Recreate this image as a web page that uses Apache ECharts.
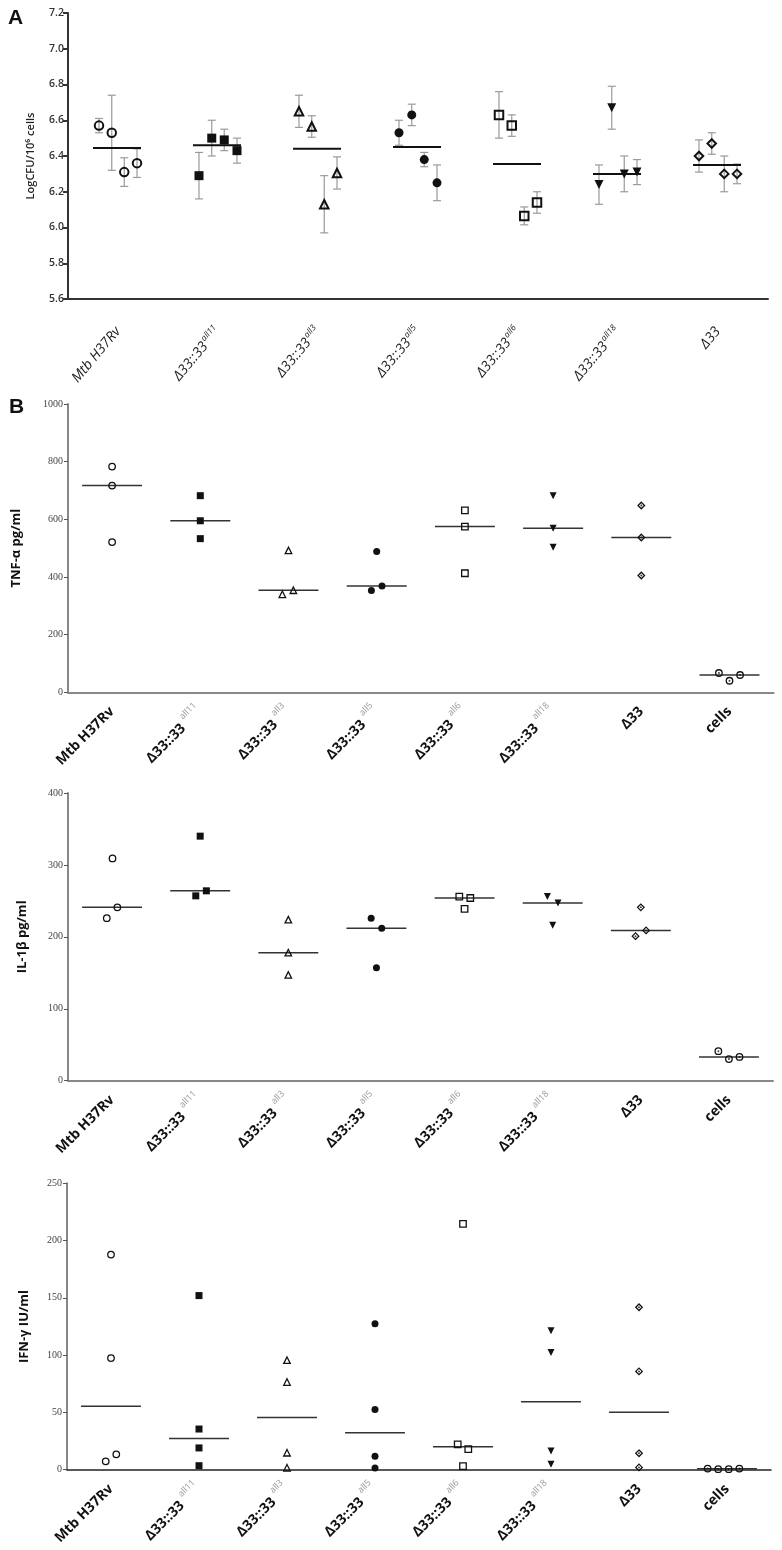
<!DOCTYPE html>
<html><head><meta charset="utf-8">
<script src="https://cdn.jsdelivr.net/npm/echarts@6/dist/echarts.min.js"></script>
<style>html,body{margin:0;padding:0;background:#fff}#c{width:782px;height:1550px}</style>
</head><body><div id="c"></div>
<script>
// ================= DATA =================
// Category labels (name + superscript)
const strainNames = ['Mtb H37Rv','Δ33::33','Δ33::33','Δ33::33','Δ33::33','Δ33::33','Δ33'];
const strainSups  = ['','all11','all3','all5','all6','all18',''];
const cytoNames   = ['Mtb H37Rv','Δ33::33','Δ33::33','Δ33::33','Δ33::33','Δ33::33','Δ33','cells'];
const cytoSups    = ['','all11','all3','all5','all6','all18','',''];

// Panel A: LogCFU/10^6 cells, 4 replicates per strain (value, SD) and group mean
const cfu = [
  [6.57, 6.53, 6.31, 6.36],
  [6.29, 6.50, 6.49, 6.43],
  [6.65, 6.565, 6.13, 6.305],
  [6.53, 6.63, 6.38, 6.25],
  [6.63, 6.57, 6.065, 6.14],
  [6.24, 6.67, 6.30, 6.31],
  [6.40, 6.47, 6.30, 6.30]
];
const cfuSD = [
  [0.04, 0.21, 0.08, 0.08],
  [0.13, 0.10, 0.06, 0.07],
  [0.09, 0.06, 0.16, 0.09],
  [0.07, 0.06, 0.04, 0.10],
  [0.13, 0.06, 0.05, 0.06],
  [0.11, 0.12, 0.10, 0.07],
  [0.09, 0.06, 0.10, 0.055]
];
const cfuMean = [6.445, 6.46, 6.44, 6.45, 6.355, 6.30, 6.35];
const cfuTicks = [5.6, 5.8, 6.0, 6.2, 6.4, 6.6, 6.8, 7.0, 7.2];

// Panel B: cytokines (per strain replicate values)
const tnf = [
  [783, 717, 521],
  [682, 595, 533],
  [492, 340, 354],
  [488, 353, 369],
  [631, 575, 413],
  [682, 569, 503],
  [648, 537, 405],
  [67, 40, 60]
];
const tnfTicks = [0, 200, 400, 600, 800, 1000];

const il1b = [
  [309, 226, 241],
  [340, 257, 264],
  [224, 178, 147],
  [226, 212, 157],
  [256, 254, 239],
  [256, 247, 216],
  [241, 201, 209],
  [41, 30, 33]
];
const il1bTicks = [0, 100, 200, 300, 400];

const ifng = [
  [187.8, 97.4, 7.3, 13.4],
  [152, 35.5, 19, 3.5],
  [95.6, 76.5, 14.8, 1.7],
  [127.3, 52.6, 11.7, 1.5],
  [214.5, 22.1, 18, 3.2],
  [121.2, 102.4, 16.3, 4.7],
  [141.8, 85.8, 14.3, 2],
  [1, 0.5, 0.5, 1]
];
const ifngTicks = [0, 50, 100, 150, 200, 250];

// ================= LAYOUT (positions / styles only) =================
const jitA = [-0.19, -0.0625, 0.0625, 0.19];
const tnfJit = [[0,0,0],[0,0,0],[0,-0.07,0.055],[0,-0.06,0.06],[0,0,0],[0,0,0],[0,0,0],[-0.12,0,0.12]];
const il1bJit = [[0.005,-0.06,0.06],[0,-0.05,0.07],[0,0,0],[-0.06,0.06,0],[-0.06,0.065,0],[-0.06,0.06,0],[0,-0.06,0.06],[-0.12,0,0.12]];
const ifngJit = [[0,0,-0.06,0.06],[0,0,0,0],[0,0,0,0],[0,0,0,0],[0,-0.06,0.06,0],[0,0,0,0],[0,0,0,0],[-0.22,-0.1,0.02,0.14]];

const marks = [
  {symbol:'circle', fill:false},
  {symbol:'rect', fill:true},
  {symbol:'triangle', fill:false},
  {symbol:'circle', fill:true},
  {symbol:'rect', fill:false},
  {symbol:'triangle', fill:true, rotate:180},
  {symbol:'diamond', fill:false, dot:true},
  {symbol:'circle', fill:false, dot:true}
];

function median(a){const s=[...a].sort((x,y)=>x-y);const n=s.length;return n%2?s[(n-1)/2]:(s[n/2-1]+s[n/2])/2;}
function step(t){return +(t[1]-t[0]).toFixed(6);}

const grids = [
  {left:68, top:13, width:700, height:286},
  {left:68, top:404, width:705.6, height:288.3},
  {left:68, top:793, width:705, height:287.7},
  {left:67, top:1183.3, width:704, height:286.4}
];
grids.forEach(g=>{g.containLabel=false; g.outerBoundsMode='none';});

function labelFmt(names, sups){
  return function(v, i){
    const s = sups[i];
    return s ? '{m|' + names[i] + '}{s|' + s + '}' : '{m|' + names[i] + '}';
  };
}

const xAxes = [];
const yAxes = [];
const series = [];

// ---------- Panel A axes ----------
xAxes.push({
  type:'category', gridIndex:0, data: strainNames.map((n,i)=>n+strainSups[i]+'#'+i),
  boundaryGap:true,
  axisLine:{onZero:false, lineStyle:{color:'#333', width:2}},
  axisTick:{alignWithLabel:true, length:5, lineStyle:{color:'#333', width:2}},
  axisLabel:{interval:0, rotate:50, margin:30, formatter: labelFmt(strainNames, strainSups),
    rich:{
      m:{fontFamily:'Open Sans', fontStyle:'italic', fontSize:14, color:'#222', lineHeight:18},
      s:{fontFamily:'Open Sans', fontStyle:'italic', fontSize:8.5, color:'#222', verticalAlign:'top', padding:[0,0,0,1]}
    }},
  splitLine:{show:false}
});
xAxes.push({type:'value', gridIndex:0, min:-0.5, max:6.5, show:false, axisLine:{onZero:false}, splitLine:{show:false}});
yAxes.push({
  type:'value', gridIndex:0, min:cfuTicks[0], max:cfuTicks[cfuTicks.length-1], interval:step(cfuTicks),
  name:'LogCFU/10⁶ cells', nameLocation:'middle', nameRotate:90, nameGap:32,
  nameTextStyle:{fontFamily:'Open Sans', fontWeight:600, fontSize:11, color:'#222'},
  axisLine:{show:true, onZero:false, lineStyle:{color:'#333', width:2}},
  axisTick:{show:true, length:5, lineStyle:{color:'#333', width:2}},
  axisLabel:{fontFamily:'Open Sans', fontWeight:600, fontSize:10.5, color:'#333', margin:4, formatter:v=>v.toFixed(1)},
  splitLine:{show:false}
});

// ---------- Panel B axes ----------
const bTitles = ['TNF-α pg/ml', 'IL-1β pg/ml', 'IFN-γ IU/ml'];
const bTicks = [tnfTicks, il1bTicks, ifngTicks];
const bGaps = [45, 39, 36];
for (let c=0;c<3;c++){
  const gi = c+1;
  const xColor = c===2 ? '#222' : '#888';
  xAxes.push({
    type:'category', gridIndex:gi, data: cytoNames.map((n,i)=>n+cytoSups[i]+'#'+i),
    boundaryGap:true,
    axisLine:{onZero:false, lineStyle:{color:xColor, width:c===2?1.5:2}},
    axisTick:{alignWithLabel:true, length:4, lineStyle:{color:'#444', width:1.5}},
    axisLabel:{interval:0, rotate:45, margin:17, formatter: labelFmt(cytoNames, cytoSups),
      rich:{
        m:{fontFamily:'Open Sans', fontWeight:'bold', fontSize:14, color:'#111', lineHeight:24},
        s:{fontFamily:'Open Sans', fontSize:9, color:'#999', verticalAlign:'top', padding:[0,0,0,4]}
      }},
    splitLine:{show:false}
  });
  xAxes.push({type:'value', gridIndex:gi, min:-0.5, max:7.5, show:false, axisLine:{onZero:false}, splitLine:{show:false}});
  const t = bTicks[c];
  yAxes.push({
    type:'value', gridIndex:gi, min:t[0], max:t[t.length-1], interval:step(t),
    name:bTitles[c], nameLocation:'middle', nameRotate:90, nameGap:bGaps[c],
    nameTextStyle:{fontFamily:'Open Sans', fontWeight:'bold', fontSize:13, color:'#111'},
    axisLine:{show:true, onZero:false, lineStyle:{color:'#888', width:2}},
    axisTick:{show:true, length:4, lineStyle:{color:'#555', width:1}},
    axisLabel:{fontFamily:'Liberation Serif', fontSize:10, color:'#444', margin:5, formatter:v=>String(v)},
    splitLine:{show:false}
  });
}

// ---------- render helpers ----------
function errRender(params, api){
  const x=api.value(0), lo=api.value(1), hi=api.value(2);
  const a=api.coord([x,lo]), b=api.coord([x,hi]);
  const c=4, st={stroke:'#9a9a9a', lineWidth:1.2};
  return {type:'group', children:[
    {type:'line', shape:{x1:a[0],y1:a[1],x2:b[0],y2:b[1]}, style:st},
    {type:'line', shape:{x1:a[0]-c,y1:a[1],x2:a[0]+c,y2:a[1]}, style:st},
    {type:'line', shape:{x1:b[0]-c,y1:b[1],x2:b[0]+c,y2:b[1]}, style:st}
  ]};
}
function lineRender(hw, color, w){
  return function(params, api){
    const x=api.value(0), y=api.value(1);
    const a=api.coord([x-hw,y]), b=api.coord([x+hw,y]);
    return {type:'line', shape:{x1:a[0],y1:a[1],x2:b[0],y2:b[1]}, style:{stroke:color, lineWidth:w}};
  };
}
function scatterSeries(xi, yi, data, mk, size, bw){
  return {
    type:'scatter', xAxisIndex:xi, yAxisIndex:yi, data:data, symbol:mk.symbol,
    symbolSize:size, symbolRotate:mk.rotate||0, z:5, silent:true,
    itemStyle: mk.fill ? {color:'#111', borderWidth:0, opacity:1}
                       : {color:'rgba(255,255,255,0)', borderColor:'#111', borderWidth:bw, opacity:1}
  };
}

// ---------- Panel A series ----------
const errData=[], meanData=[];
cfu.forEach((vals,g)=>{
  const pts = vals.map((v,k)=>[g+jitA[k], v]);
  vals.forEach((v,k)=>errData.push([g+jitA[k], v-cfuSD[g][k], v+cfuSD[g][k]]));
  meanData.push([g-0.01, cfuMean[g]]);
  series.push(scatterSeries(1, 0, pts, marks[g], marks[g].fill?9:8.5, 2));
});
series.push({type:'custom', xAxisIndex:1, yAxisIndex:0, data:errData, renderItem:errRender, encode:{x:0,y:[1,2]}, z:2, silent:true});
series.push({type:'custom', xAxisIndex:1, yAxisIndex:0, data:meanData, renderItem:lineRender(0.24,'#111',2), encode:{x:0,y:1}, z:3, silent:true});

// ---------- Panel B series ----------
const bData = [tnf, il1b, ifng];
const bJit = [tnfJit, il1bJit, ifngJit];
for (let c=0;c<3;c++){
  const xi = 2*(c+1)+1, yi = c+1;
  const med=[];
  bData[c].forEach((vals,g)=>{
    const pts = vals.map((v,k)=>[g+bJit[c][g][k], v]);
    med.push([g, median(vals)]);
    series.push(scatterSeries(xi, yi, pts, marks[g], marks[g].fill?7:6.5, 1.3));
    if (marks[g].dot){
      series.push({type:'scatter', xAxisIndex:xi, yAxisIndex:yi, data:pts, symbol:'circle', symbolSize:2, z:6, silent:true, itemStyle:{color:'#111'}});
    }
  });
  series.push({type:'custom', xAxisIndex:xi, yAxisIndex:yi, data:med, renderItem:lineRender(0.34,'#333',1.5), encode:{x:0,y:1}, z:3, silent:true});
}

const chart = echarts.init(document.getElementById('c'), null, {renderer:'canvas'});
chart.setOption({
  animation:false,
  backgroundColor:'#fff',
  grid: grids,
  xAxis: xAxes,
  yAxis: yAxes,
  series: series,
  graphic:[
    {type:'text', left:8, top:8, style:{text:'A', fontFamily:'Liberation Sans', fontWeight:'bold', fontSize:21, fill:'#111'}},
    {type:'text', left:9, top:397, style:{text:'B', fontFamily:'Liberation Sans', fontWeight:'bold', fontSize:21, fill:'#111'}}
  ]
});
</script>
</body></html>
